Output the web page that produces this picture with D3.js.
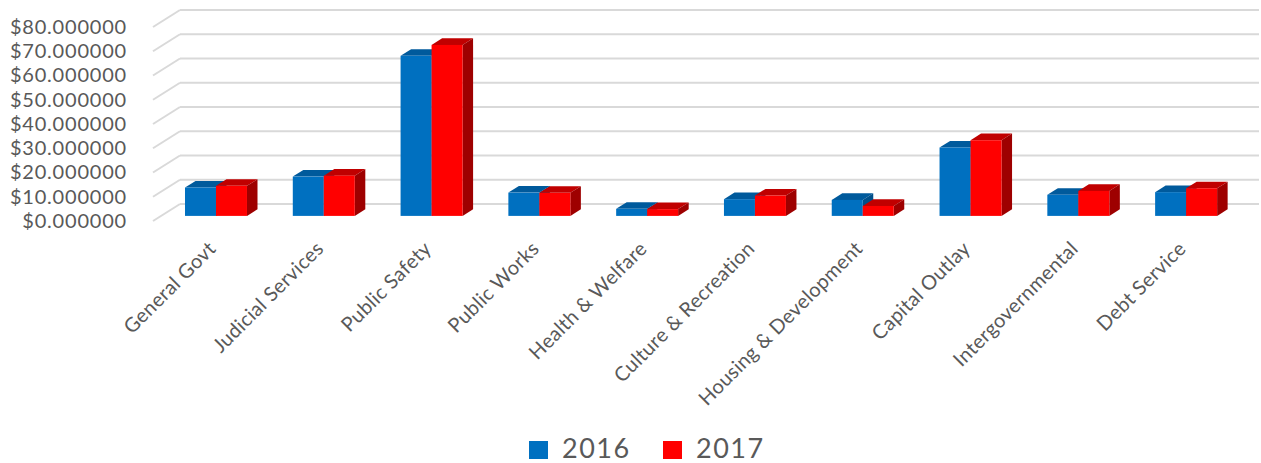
<!DOCTYPE html>
<html>
<head>
<meta charset="utf-8">
<script src="https://cdn.jsdelivr.net/npm/d3@7"></script>
<style>
  body { margin: 0; background: #fff; }
  text { font-family: Lato, "Open Sans", sans-serif; fill: #595959; }
</style>
</head>
<body>
<div id="chart"></div>
<script>
// values in millions of dollars
var categories = ["General Govt", "Judicial Services", "Public Safety", "Public Works", "Health & Welfare",
                  "Culture & Recreation", "Housing & Development", "Capital Outlay", "Intergovernmental", "Debt Service"];
var values2016 = [11.7, 16.2, 66.0, 9.6, 2.9, 6.9, 6.6, 28.2, 8.7, 9.8];
var values2017 = [12.4, 16.6, 70.5, 9.5, 2.8, 8.4, 4.1, 31.2, 10.3, 11.4];
var seriesNames = ["2016", "2017"];
var yTicks = [0, 10, 20, 30, 40, 50, 60, 70, 80];

var w = 1261;
var h = 463;

// back wall scale, the whole depth of the floor is (depthX, depthY)
var depthX = 27, depthY = -17;
var wallLeft = 180, wallRight = 1259;

var yScale = d3.scaleLinear().domain([0, 80]).range([204, 10]);

var xScale = d3.scaleBand()
    .domain(categories)
    .range([131.1, 1271])
    .paddingInner(0.425)
    .paddingOuter(0.5);

var xSub = d3.scaleBand()
    .domain(seriesNames)
    .range([0, xScale.bandwidth()]);

var colors = {
    "2016": { front: "#0070C0", top: "#005A9C", side: "#004F8A" },
    "2017": { front: "#FF0000", top: "#C00000", side: "#9E0000" }
};

var svg = d3.select("#chart")
    .append("svg")
    .attr("width", w)
    .attr("height", h);

// gridlines, back wall
svg.append("g")
    .selectAll("line")
    .data(yTicks)
    .enter()
    .append("line")
    .attr("x1", wallLeft)
    .attr("x2", wallRight)
    .attr("y1", function(d) { return yScale(d); })
    .attr("y2", function(d) { return yScale(d); })
    .attr("stroke", "#D9D9D9")
    .attr("stroke-width", 2);

// gridlines, left wall
svg.append("g")
    .selectAll("line")
    .data(yTicks)
    .enter()
    .append("line")
    .attr("x1", wallLeft - depthX)
    .attr("x2", wallLeft)
    .attr("y1", function(d) { return yScale(d) - depthY; })
    .attr("y2", function(d) { return yScale(d); })
    .attr("stroke", "#D9D9D9")
    .attr("stroke-width", 2);

// y axis labels on the front edge of the left wall
var yAxis = d3.axisLeft(yScale)
    .tickValues(yTicks)
    .tickSize(0)
    .tickPadding(0)
    .tickFormat(function(d) { return "$" + d.toFixed(6); });

var yG = svg.append("g")
    .attr("transform", "translate(127," + (-depthY) + ")")
    .call(yAxis);
yG.select(".domain").remove();
yG.selectAll("text")
    .style("font-size", "20px")
    .style("letter-spacing", "0.8px")
    .style("font-family", "Lato, 'Open Sans', sans-serif")
    .attr("fill", "#595959");

// bars sit in the middle of the floor depth
var d0 = 0.3, d1 = 0.69;
var frontShift = -depthY * (1 - d0);       // front face offset from back wall scale
var bx = depthX * (d1 - d0), by = depthY * (d1 - d0);

var barData = [];
categories.forEach(function(c, i) {
    barData.push({ cat: c, series: "2016", value: values2016[i] });
    barData.push({ cat: c, series: "2017", value: values2017[i] });
});

var bars = svg.append("g")
    .selectAll("g")
    .data(barData)
    .enter()
    .append("g");

function geom(d) {
    var x0 = xScale(d.cat) + xSub(d.series);
    var x1 = x0 + xSub.bandwidth();
    var yb = yScale(0) + frontShift;
    var yt = yScale(d.value) + frontShift;
    return { x0: x0, x1: x1, yb: yb, yt: yt };
}

// top face
bars.append("path")
    .attr("fill", function(d) { return colors[d.series].top; })
    .attr("d", function(d) {
        var g = geom(d);
        return "M" + g.x0 + "," + g.yt + "L" + (g.x0 + bx) + "," + (g.yt + by) +
               "L" + (g.x1 + bx) + "," + (g.yt + by) + "L" + g.x1 + "," + g.yt + "Z";
    });

// side face
bars.append("path")
    .attr("fill", function(d) { return colors[d.series].side; })
    .attr("d", function(d) {
        var g = geom(d);
        return "M" + g.x1 + "," + g.yt + "L" + (g.x1 + bx) + "," + (g.yt + by) +
               "L" + (g.x1 + bx) + "," + (g.yb + by) + "L" + g.x1 + "," + g.yb + "Z";
    });

// front face
bars.append("rect")
    .attr("x", function(d) { return geom(d).x0; })
    .attr("y", function(d) { return geom(d).yt; })
    .attr("width", xSub.bandwidth())
    .attr("height", function(d) { var g = geom(d); return g.yb - g.yt; })
    .attr("fill", function(d) { return colors[d.series].front; });

// category labels
svg.append("g")
    .selectAll("text")
    .data(categories)
    .enter()
    .append("text")
    .attr("text-anchor", "end")
    .style("font-size", "20px")
    .style("letter-spacing", "0.3px")
    .attr("transform", function(d) {
        var cx = xScale(d) + xScale.bandwidth() / 2 + 1;
        return "translate(" + cx + ",250) rotate(-45)";
    })
    .text(function(d) { return d; });

// legend
var legend = svg.append("g")
    .selectAll("g")
    .data(seriesNames)
    .enter()
    .append("g")
    .attr("transform", function(d, i) { return "translate(" + (529 + i * 134) + ",441)"; });

legend.append("rect")
    .attr("width", 19)
    .attr("height", 18)
    .attr("fill", function(d) { return colors[d].front; });

legend.append("text")
    .attr("x", 33)
    .attr("y", 17)
    .style("font-size", "27px")
    .style("letter-spacing", "1.5px")
    .text(function(d) { return d; });
</script>
</body>
</html>
